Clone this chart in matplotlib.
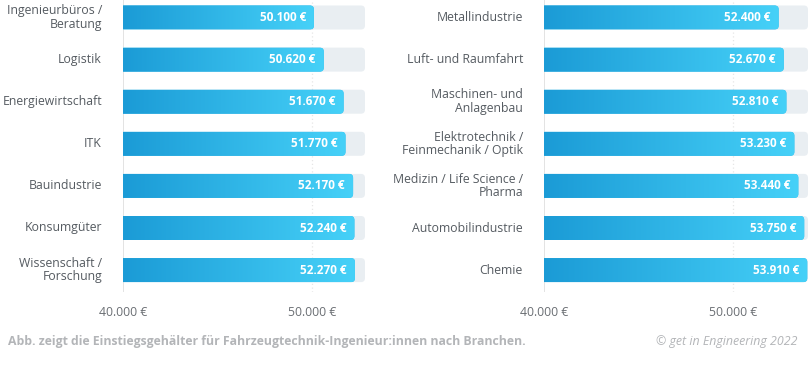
import numpy as np
import matplotlib
matplotlib.use("Agg")
import matplotlib.pyplot as plt
from matplotlib.patches import FancyBboxPatch
from matplotlib.colors import LinearSegmentedColormap

plt.rcParams['font.family'] = ['Open Sans', 'DejaVu Sans']

# ---- Daten ----
left_labels = ["Ingenieurbüros /\nBeratung", "Logistik", "Energiewirtschaft", "ITK",
               "Bauindustrie", "Konsumgüter", "Wissenschaft /\nForschung"]
left_values = [50100, 50620, 51670, 51770, 52170, 52240, 52270]

right_labels = ["Metallindustrie", "Luft- und Raumfahrt", "Maschinen- und\nAnlagenbau",
                "Elektrotechnik /\nFeinmechanik / Optik", "Medizin / Life Science /\nPharma",
                "Automobilindustrie", "Chemie"]
right_values = [52400, 52670, 52810, 53230, 53440, 53750, 53910]

tick_values = [40000, 50000]
tick_labels = ["40.000 €", "50.000 €"]

caption = "Abb. zeigt die Einstiegsgehälter für Fahrzeugtechnik-Ingenieur:innen nach Branchen."
credit = "© get in Engineering 2022"

W, H = 808, 376
fig = plt.figure(figsize=(W / 100, H / 100), dpi=100)

grad = LinearSegmentedColormap.from_list("g", ["#1b9bd6", "#46d1f8"])
gimg = np.linspace(0, 1, 256).reshape(1, -1)


def fmt(v):
    return f"{v:,.0f}".replace(",", ".") + " €"


def panel(x0, x1, xmax, labels, values):
    # Achse in Pixeln positionieren
    top, bottom = 0, 292
    ax = fig.add_axes([x0 / W, 1 - bottom / H, (x1 - x0) / W, (bottom - top) / H])
    spacing = 42.1
    ax.set_xlim(40000, xmax)
    ax.set_ylim((bottom - 17.5) / spacing, -17.5 / spacing)
    ax.axis("off")

    ux = (xmax - 40000) / (x1 - x0)      # Einheiten pro Pixel in x
    uy = 1 / spacing                     # Einheiten pro Pixel in y
    h = 24 * uy
    r = 4 * ux
    asp = uy / ux

    ax.axvline(40000, color="#dedede", lw=1.2, zorder=1)
    ax.axvline(50000, color="#e6e6e6", lw=0.9, ls=(0, (1, 2)), zorder=1)

    for i, (lab, v) in enumerate(zip(labels, values)):
        bg = FancyBboxPatch((39500, i - h / 2), xmax - 39500 - 1, h,
                            boxstyle=f"round,pad=0,rounding_size={r}",
                            mutation_aspect=asp, fc="#e9eef2", ec="none", zorder=2)
        ax.add_patch(bg)
        bar = FancyBboxPatch((39500, i - h / 2), v - 39500, h,
                             boxstyle=f"round,pad=0,rounding_size={r}",
                             mutation_aspect=asp, fc="#2fb8ea", ec="none", zorder=3)
        ax.add_patch(bar)
        im = ax.imshow(gimg, cmap=grad, aspect="auto", zorder=4,
                       extent=(40000, v, i + h / 2, i - h / 2), interpolation="bilinear")
        im.set_clip_path(bar)
        ax.text(v - 8 * ux, i, fmt(v), ha="right", va="center", color="white",
                fontsize=8.5, fontweight="bold", zorder=5)
        ax.text(40000 - 21 * ux, i, lab, ha="right", va="center", color="#555b61",
                fontsize=8.8, linespacing=1.05, clip_on=False)

    ax.set_ylim((bottom - 17.5) / spacing, -17.5 / spacing)
    for t, tl in zip(tick_values, tick_labels):
        ax.text(t, (312 - 17.5) / spacing, tl, ha="center", va="center",
                color="#6a6e73", fontsize=8.8, clip_on=False)
    return ax


panel(123, 365, 52800, left_labels, left_values)
panel(544, 808, 53950, right_labels, right_values)

fig.text(8 / W, 1 - 342 / H, caption, ha="left", va="center", color="#b3b5b8",
         fontsize=8.8, fontweight="bold")
fig.text(797 / W, 1 - 342 / H, credit, ha="right", va="center", color="#b3b5b8",
         fontsize=8.9, style="italic")

fig.savefig("out.png", dpi=100)
